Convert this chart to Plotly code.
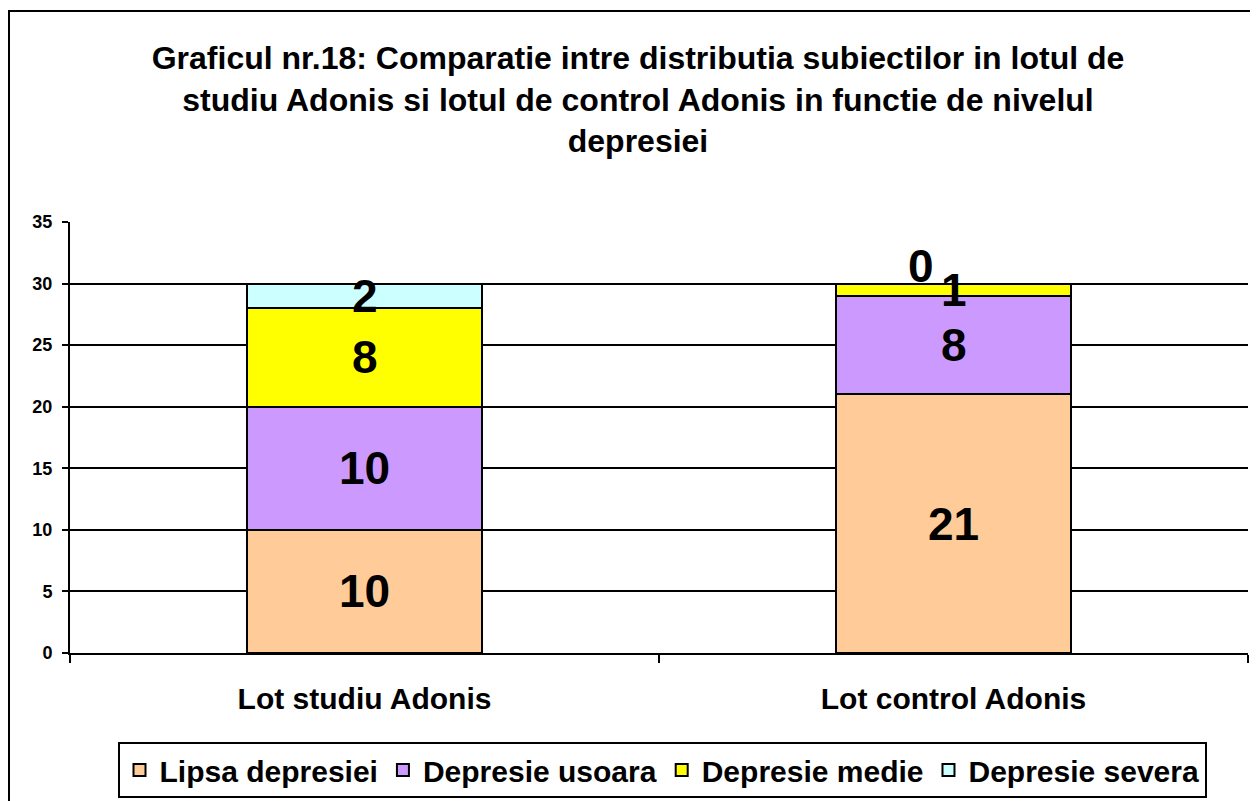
import plotly.graph_objects as go

categories = ["Lot studiu Adonis", "Lot control Adonis"]
series_names = ["Lipsa depresiei", "Depresie usoara", "Depresie medie", "Depresie severa"]
lipsa = [10, 21]
usoara = [10, 8]
medie = [8, 1]
severa = [2, 0]
colors = ["#FFCC99", "#CC99FF", "#FFFF00", "#CCFFFF"]
y_ticks = [0, 5, 10, 15, 20, 25, 30, 35]

series = [lipsa, usoara, medie, severa]
FONT = "Liberation Sans, Arial, sans-serif"

fig = go.Figure()
for name, vals, col in zip(series_names, series, colors):
    fig.add_trace(go.Bar(
        x=categories, y=vals, name=name,
        marker=dict(color=col, line=dict(color="black", width=2)),
    ))

annotations = []
base = [0] * len(categories)
for vals in series:
    for i, v in enumerate(vals):
        mid = base[i] + v / 2
        xs, ys = (0, 0)
        if v == 0:
            xs, ys = -33, 18
        annotations.append(dict(
            x=categories[i], y=mid, text=str(v), showarrow=False,
            xshift=xs, yshift=ys,
            font=dict(family=FONT, size=46, color="black", weight="bold"),
        ))
        base[i] += v

# page is offset by 8px body margin
OFF = 8
W, H = 1258 - OFF, 801 - OFF
PL, PR, PT, PB = 70, 1248, 222, 653  # plot area in page pixels
L = PL - OFF
T = PT - OFF
R = W - (PR - OFF)
B = H - (PB - OFF)
pw, ph = W - L - R, H - T - B


def px(xp):
    return (xp - OFF - L) / pw


def py(yp):
    return (H - B - (yp - OFF)) / ph


fig.update_layout(
    width=W, height=H,
    margin=dict(l=L, r=R, t=T, b=B, autoexpand=False),
    paper_bgcolor="white", plot_bgcolor="white",
    barmode="stack", bargap=0.6,
    font=dict(family=FONT, color="black"),
    title=dict(
        text="Graficul nr.18: Comparatie intre distributia subiectilor in lotul de<br>"
             "studiu Adonis si lotul de control Adonis in functie de nivelul<br>depresiei",
        x=px(638), xanchor="center", xref="paper",
        y=1 - 61 / H, yanchor="top", yref="container",
        font=dict(family=FONT, size=32, color="black", weight="bold"),
    ),
    xaxis=dict(
        showline=True, linecolor="black", linewidth=2,
        ticks="outside", tickson="boundaries", ticklen=8, tickwidth=2, tickcolor="black",
        tickfont=dict(family=FONT, size=30, color="black", weight="bold"),
        ticklabelstandoff=18, automargin=False,
        showgrid=False,
    ),
    yaxis=dict(
        range=[0, 35], tickvals=y_ticks,
        showline=True, linecolor="black", linewidth=2,
        ticks="outside", ticklen=6, tickwidth=2, tickcolor="black",
        tickfont=dict(family=FONT, size=18, color="black", weight="bold"),
        ticklabelstandoff=6, automargin=False,
        showgrid=True, gridcolor="black", gridwidth=2,
        zeroline=False,
    ),
    legend=dict(
        orientation="h", x=px(662), xanchor="center", y=py(742), yanchor="top",
        bordercolor="black", borderwidth=2, bgcolor="white",
        font=dict(family=FONT, size=30, color="black", weight="bold"),
        traceorder="normal", itemwidth=30,
    ),
    annotations=annotations,
    shapes=[dict(
        type="rect", xref="paper", yref="paper",
        x0=px(9), x1=px(1275), y0=py(11), y1=py(820),
        line=dict(color="black", width=2), fillcolor="rgba(0,0,0,0)", layer="below",
    )],
)

fig.write_html("out.html")
